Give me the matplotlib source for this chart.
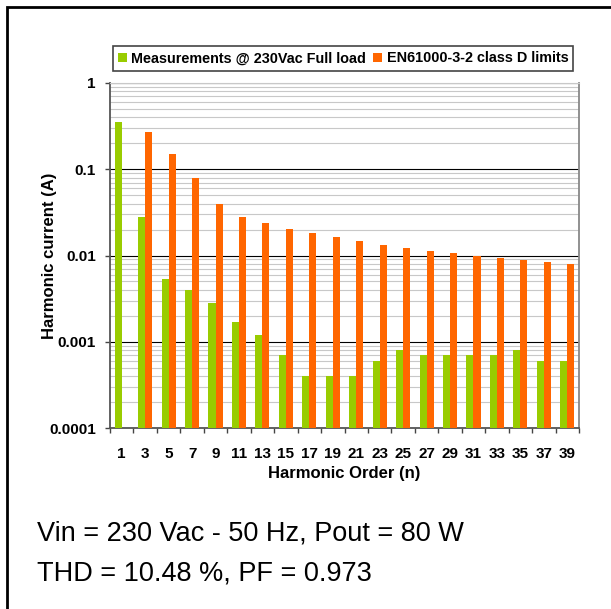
import numpy as np
import matplotlib
matplotlib.use('Agg')
import matplotlib.pyplot as plt
from matplotlib.patches import Rectangle
from matplotlib.ticker import FixedLocator, LogLocator, NullFormatter, FuncFormatter

plt.rcParams['font.family'] = ['Liberation Sans', 'DejaVu Sans']

#%% data
harmonic_order = [1, 3, 5, 7, 9, 11, 13, 15, 17, 19, 21, 23, 25, 27, 29, 31, 33, 35, 37, 39]
measured_current = [0.35, 0.028, 0.0054, 0.004, 0.0028, 0.0017, 0.0012, 0.0007, 0.0004, 0.0004,
                    0.0004, 0.0006, 0.0008, 0.0007, 0.0007, 0.0007, 0.0007, 0.0008, 0.0006, 0.0006]
classd_limit = [np.nan, 0.272, 0.152, 0.080, 0.040, 0.028, 0.0237, 0.0205, 0.0181, 0.0162,
                0.0147, 0.0134, 0.0123, 0.0114, 0.0106, 0.0099, 0.0093, 0.0088, 0.0083, 0.0079]
y_ticks = [0.0001, 0.001, 0.01, 0.1, 1]
legend_labels = ['Measurements @ 230Vac Full load', 'EN61000-3-2 class D limits']
note_lines = ['Vin = 230 Vac - 50 Hz, Pout = 80 W', 'THD = 10.48 %, PF = 0.973']

green = '#99CC00'
orange = '#FF6600'

#%% figure
W, H = 611, 609
fig = plt.figure(figsize=(W / 100, H / 100), dpi=100)
ax = fig.add_axes([110 / W, 1 - 428 / H, (579 - 110) / W, (428 - 83) / H])

x = np.arange(len(harmonic_order))
bw = 0.3
b1 = ax.bar(x - bw / 2, measured_current, bw, color=green, zorder=3)
b2 = ax.bar(x + bw / 2, classd_limit, bw, color=orange, zorder=3)

ax.set_yscale('log')
ax.set_ylim(1e-4, 1)
ax.set_xlim(-0.5, len(x) - 0.5)

# grid
ax.yaxis.set_major_locator(FixedLocator(y_ticks))
ax.yaxis.set_major_formatter(FuncFormatter(lambda v, p: '%g' % v))
ax.yaxis.set_minor_locator(LogLocator(base=10, subs=np.arange(2, 10)))
ax.yaxis.set_minor_formatter(NullFormatter())
ax.grid(True, which='major', axis='y', color='black', lw=0.8, zorder=1)
ax.grid(True, which='minor', axis='y', color='#c8c8c8', lw=0.8, zorder=1)
ax.tick_params(axis='y', which='major', direction='out', length=3.6, width=1, color='#444444', pad=6.5, labelsize=11)
ax.tick_params(axis='y', which='minor', length=0)
for t in ax.get_yticklabels():
    t.set_fontweight('bold')

# x ticks: labels at centres, tick marks at boundaries
ax.set_xticks(x)
ax.set_xticklabels([str(h) for h in harmonic_order], fontweight='bold', fontsize=11)
ax.set_xticks(np.arange(-0.5, len(x)), minor=True)
ax.tick_params(axis='x', which='major', length=0, pad=14)
ax.tick_params(axis='x', which='minor', direction='out', length=3.6, width=1, color='#444444')

ax.spines['left'].set_color('#555555')
ax.spines['bottom'].set_color('#555555')
ax.spines['left'].set_linewidth(1.3)
ax.spines['bottom'].set_linewidth(1.3)
ax.spines['right'].set_color('#888888')
ax.spines['right'].set_linewidth(1.3)
ax.spines['top'].set_color('#c8c8c8')

ax.set_xlabel('Harmonic Order (n)', fontweight='bold', fontsize=12, labelpad=3)
ax.set_ylabel('Harmonic current (A)', fontweight='bold', fontsize=12)
ax.yaxis.set_label_coords((57 - 110) / 469, 0.5)

leg = fig.legend([b1, b2], legend_labels, loc='center', ncol=2,
                 bbox_to_anchor=(343 / W, 1 - 58.5 / H),
                 prop={'weight': 'bold', 'size': 10.4},
                 handlelength=0.65, handleheight=0.65, handletextpad=0.3,
                 columnspacing=0.45, borderpad=0.35, borderaxespad=0,
                 fancybox=False, framealpha=1)
leg.get_frame().set_edgecolor('#444444')
leg.get_frame().set_linewidth(1.2)

fig.text(37 / W, 1 - 533 / H, note_lines[0], fontsize=19.5, va='center', ha='left')
fig.text(37 / W, 1 - 574 / H, note_lines[1], fontsize=19.5, va='center', ha='left')

# outer frame (only left and top edges are in view)
fig.add_artist(Rectangle((7 / W, -0.1), 1.2, 1.1 - 7 / H, transform=fig.transFigure,
                         fill=False, ec='black', lw=2))

fig.savefig('out.png', dpi=100)
